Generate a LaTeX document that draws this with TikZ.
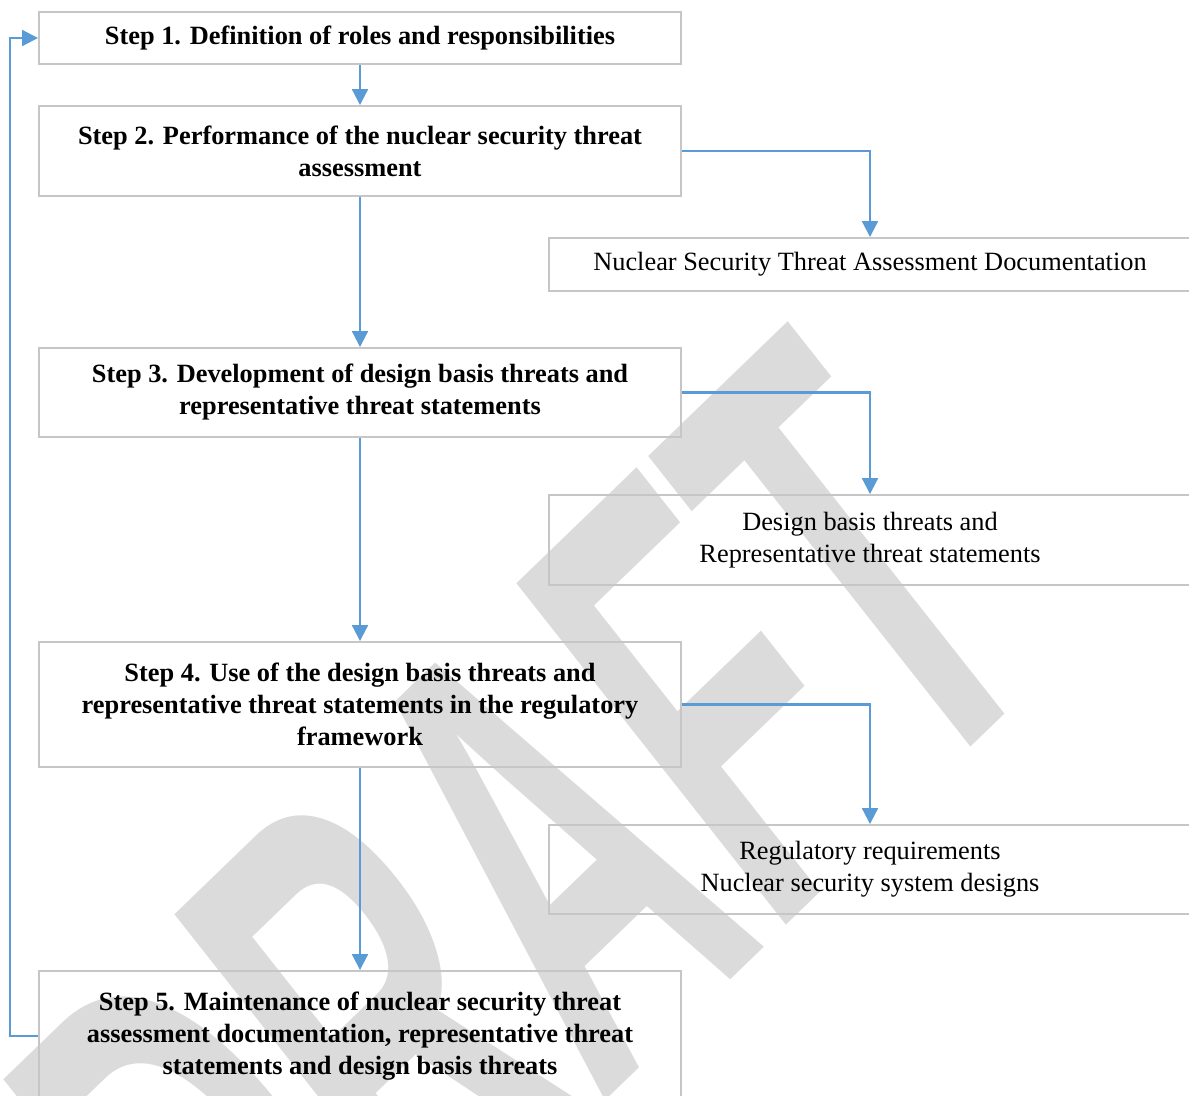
\documentclass[tikz,border=0pt]{standalone}
\usepackage{fontspec}
\usepackage{graphicx}
\setmainfont{Liberation Serif}
\newfontfamily\wmfont{Liberation Sans}
\usepackage{tikz}
\usetikzlibrary{arrows.meta}

\definecolor{linkblue}{RGB}{91,155,213}
\definecolor{boxgray}{RGB}{198,198,198}
\definecolor{wmgray}{RGB}{219,219,219}

\begin{document}
\begin{tikzpicture}[
  stepbox/.style={rectangle, draw=boxgray, line width=1.1pt, minimum width=12.84cm,
    inner sep=0pt, align=center, font=\fontsize{15}{18.2}\selectfont\bfseries},
  outbox/.style={rectangle, draw=boxgray, line width=1.1pt, minimum width=12.84cm,
    inner sep=0pt, align=center, font=\fontsize{15}{18.2}\selectfont},
  wmark/.style={text=wmgray, inner sep=0pt, font=\fontsize{341}{341}\wmfont\bfseries},
  link/.style={draw=linkblue, line width=1.2pt, -{Triangle[width=9pt,length=9pt]}}
]
  \useasboundingbox (0,0) rectangle (23.78,-21.9);

  % watermark
  \begin{scope}[shift={(15.82,-6.38)}, rotate=44, xslant=0.1]
    \node[wmark, transform shape, anchor=north east] (wm) at (0,0) {\scalebox{0.55}[1.05]{DRAFT}};
  \end{scope}

  \node[stepbox, minimum height=1.04cm] (s1) at (7.2,-0.76) {Step 1. Definition of roles and responsibilities};
  \node[stepbox, minimum height=1.8cm] (s2) at (7.2,-3.02) {Step 2. Performance of the nuclear security threat\\assessment};
  \node[stepbox, minimum height=1.78cm] (s3) at (7.2,-7.85) {Step 3. Development of design basis threats and\\representative threat statements};
  \node[stepbox, minimum height=2.5cm] (s4) at (7.2,-14.09) {Step 4. Use of the design basis threats and\\representative threat statements in the regulatory\\framework};
  \node[stepbox, minimum height=2.6cm] (s5) at (7.2,-20.72) {Step 5. Maintenance of nuclear security threat\\assessment documentation, representative threat\\statements and design basis threats};

  \node[outbox, minimum height=1.06cm] (o1) at (17.4,-5.29) {Nuclear Security Threat Assessment Documentation};
  \node[outbox, minimum height=1.8cm] (o2) at (17.4,-10.8) {Design basis threats and\\Representative threat statements};
  \node[outbox, minimum height=1.78cm] (o3) at (17.4,-17.39) {Regulatory requirements\\Nuclear security system designs};

  \draw[link] (s1) -- (s2);
  \draw[link] (s2) -- (s3);
  \draw[link] (s3) -- (s4);
  \draw[link] (s4) -- (s5);

  \draw[link] (s2.east) -| (o1.north);
  \draw[link] (s3.east) -| (o2.north);
  \draw[link] (s4.east) -| (o3.north);

  % feedback loop
  \draw[link] (s5.west) -- ++(-0.56,0) |- (s1.west);
\end{tikzpicture}
\end{document}
